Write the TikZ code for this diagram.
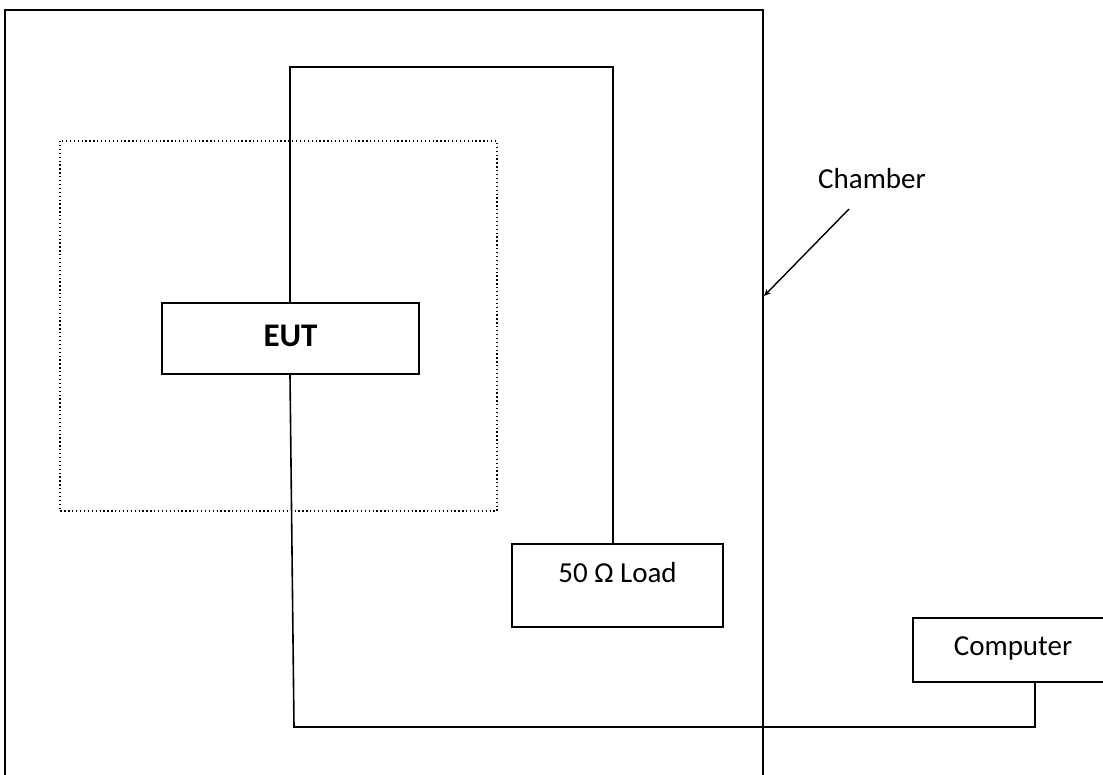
\documentclass[tikz,border=0pt]{standalone}
\usepackage{fontspec}
\setmainfont{Carlito}
\usetikzlibrary{arrows.meta}
\begin{document}
\begin{tikzpicture}[x=1pt,y=-1pt,
  wire/.style={line width=1.6pt, black},
  boxed/.style={draw, line width=1.6pt, inner sep=0pt},
  txt/.style={font=\fontsize{29}{34}\selectfont},
  dotbox/.style={line width=1.2pt, dash pattern=on 1.3pt off 2.6pt}]
\useasboundingbox (0,0) rectangle (1103,774);
\clip (0,0) rectangle (1103,774);
\fill[white] (0,0) rectangle (1103,774);
% chamber walls (open at the bottom)
\draw[wire] (5,790) -- (5,10) -- (763,10) -- (763,790);
% dotted area
\draw[dotbox] (60,141) rectangle (497,511);
% nodes
\node[boxed, minimum width=257pt, minimum height=71pt] (eut) at (290.5,338.5) {};
\node[font=\fontsize{33}{38}\selectfont\bfseries] (euttxt) at (290.5,336) {EUT};
\node[boxed, minimum width=211pt, minimum height=83pt] (load) at (617.5,585.5) {};
\node[txt] (loadtxt) at (617.5,573) {50 Ω Load};
\node[boxed, minimum width=200pt, minimum height=64pt] (comp) at (1013,650) {};
\node[txt] (comptxt) at (1013,648) {Computer};
\node[txt] (chamber) at (872,179) {Chamber};
% helper coordinates
\coordinate (t1) at (290,67);
\coordinate (t2) at (613,67);
\coordinate (b1) at (294,727);
\coordinate (b2) at (1035,727);
\coordinate (arrs) at (849,209);
\coordinate (arre) at (764,296);
% wires
\draw[wire] (eut.north -| t1) -- (t1) -- (t2) -- (t2 |- load.north);
\draw[wire] (eut.south -| t1) -- (b1) -- (b2) -- (b2 |- comp.south);
% chamber pointer
\draw[line width=1.4pt, -{Stealth[length=7pt,width=6pt]}] (arrs) -- (arre);
\end{tikzpicture}
\end{document}
